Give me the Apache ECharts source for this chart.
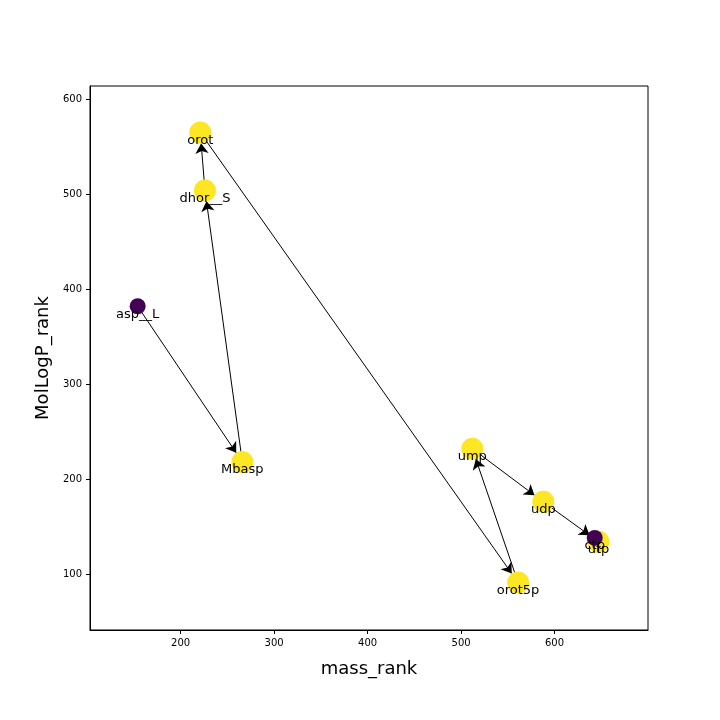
<!DOCTYPE html>
<html><head><meta charset="utf-8">
<script src="https://cdn.jsdelivr.net/npm/echarts@6/dist/echarts.min.js"></script>
<style>html,body{margin:0;background:#fff}#c{width:720px;height:720px}</style>
</head><body><div id="c"></div>
<script>
var names = ['asp__L', 'Mbasp', 'dhor__S', 'orot', 'orot5p', 'ump', 'udp', 'utp', 'ctp'];
var massRank = [154, 266, 226, 221, 561, 512, 588, 647, 643];
var logPRank = [382, 218, 504, 565, 91, 232, 176, 134, 138];
var nodeColor = ['#440154', '#fde725', '#fde725', '#fde725', '#fde725', '#fde725', '#fde725', '#fde725', '#440154'];
var edgeFrom = ['asp__L', 'Mbasp', 'dhor__S', 'orot', 'orot5p', 'ump', 'udp'];
var edgeTo = ['Mbasp', 'dhor__S', 'orot', 'orot5p', 'ump', 'udp', 'utp'];
var xTicks = [200, 300, 400, 500, 600];
var yTicks = [100, 200, 300, 400, 500, 600];

var nodes = names.map(function (n, i) {
  return {
    name: n, value: [massRank[i], logPRank[i]],
    symbolSize: nodeColor[i] === '#440154' ? 16 : 22,
    itemStyle: { color: nodeColor[i] }
  };
});
var links = edgeFrom.map(function (s, i) { return { source: s, target: edgeTo[i] }; });

var axisCommon = {
  axisLine: { lineStyle: { color: '#000' } },
  axisTick: { lineStyle: { color: '#000' }, length: 4 },
  axisLabel: { color: '#000', fontSize: 10, fontFamily: 'DejaVu Sans' },
  splitLine: { show: false },
  nameLocation: 'middle',
  nameTextStyle: { color: '#000', fontSize: 18, fontFamily: 'DejaVu Sans' }
};
var chart = echarts.init(document.getElementById('c'));
chart.setOption({
  animation: false,
  grid: { left: 90, right: 72, top: 86, bottom: 90, show: true, borderColor: '#000', borderWidth: 1 },
  xAxis: Object.assign({}, axisCommon, {
    type: 'value', min: 103, max: 700, name: 'mass_rank', nameGap: 30,
    axisTick: Object.assign({}, axisCommon.axisTick, { customValues: xTicks }),
    axisLabel: Object.assign({}, axisCommon.axisLabel, { customValues: xTicks })
  }),
  yAxis: Object.assign({}, axisCommon, {
    type: 'value', min: 41, max: 614, name: 'MolLogP_rank', nameGap: 38,
    axisTick: Object.assign({}, axisCommon.axisTick, { customValues: yTicks }),
    axisLabel: Object.assign({}, axisCommon.axisLabel, { customValues: yTicks })
  }),
  series: [{
    type: 'graph', coordinateSystem: 'cartesian2d', layout: 'none',
    data: nodes, links: links,
    edgeSymbol: ['none', 'arrow'], edgeSymbolSize: [0, 10],
    lineStyle: { color: '#000', width: 1, opacity: 1 },
    label: { show: true, position: 'inside', offset: [0, 8], color: '#000', fontSize: 13, fontFamily: 'DejaVu Sans' }
  }]
});
</script></body></html>
